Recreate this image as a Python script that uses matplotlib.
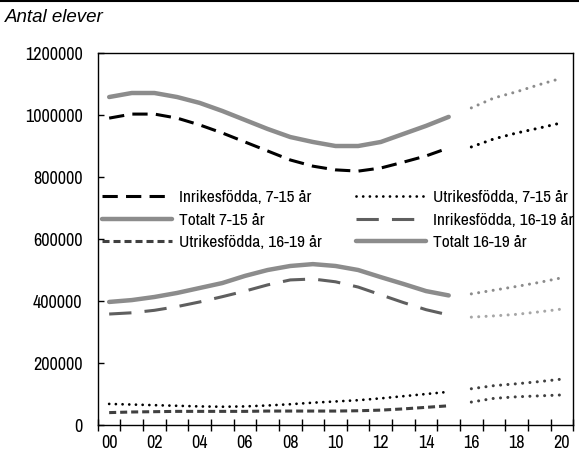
import numpy as np
import matplotlib
matplotlib.use("Agg")
from matplotlib import pyplot as plt
from matplotlib.ticker import FixedLocator

# Years 2000-2020, shown as two-digit labels
years = list(range(21))
hist = years[:16]
proj = years[16:]
tick_labels = ["00", "02", "04", "06", "08", "10", "12", "14", "16", "18", "20"]

# Historical values 2000-2015
inrikes_7_15 = [990000, 1003000, 1003000, 990000, 968000, 942000, 913000, 884000,
                855000, 835000, 823000, 819000, 829000, 848000, 868000, 894000]
utrikes_7_15 = [68000, 66000, 64000, 62000, 60000, 59000, 60000, 63000,
                67000, 72000, 76000, 80000, 86000, 93000, 100000, 107000]
totalt_7_15 = [1058000, 1071000, 1071000, 1058000, 1039000, 1013000, 984000, 955000,
               929000, 913000, 900000, 900000, 913000, 939000, 965000, 994000]
inrikes_16_19 = [358000, 362000, 370000, 382000, 397000, 414000, 432000, 452000,
                 468000, 471000, 462000, 445000, 420000, 395000, 372000, 355000]
utrikes_16_19 = [40000, 42000, 43000, 44000, 44000, 44000, 44000, 45000,
                 45000, 45000, 45000, 46000, 48000, 52000, 57000, 62000]
totalt_16_19 = [397000, 403000, 413000, 426000, 442000, 458000, 481000, 500000,
                513000, 519000, 513000, 500000, 477000, 455000, 432000, 418000]

# Projections 2016-2020
inrikes_7_15_p = [897000, 923000, 942000, 958000, 975000]
utrikes_7_15_p = [117000, 127000, 133000, 140000, 148000]
totalt_7_15_p = [1023000, 1055000, 1075000, 1098000, 1119000]
inrikes_16_19_p = [348000, 352000, 357000, 365000, 374000]
utrikes_16_19_p = [74000, 86000, 91000, 94000, 97000]
totalt_16_19_p = [423000, 435000, 447000, 460000, 475000]

plt.rcParams['font.family'] = ['Archivo Narrow', 'DejaVu Sans']
fs = 12.5

fig = plt.figure(figsize=(5.79, 4.57), dpi=100)
ax = fig.add_axes([0.169, 0.070, 0.821, 0.814])

gray = "#8c8c8c"
dark = "#5f5f5f"
darker = "#404040"

dot = (0, (0.01, 2.4))

l1, = ax.plot(hist, inrikes_7_15, color="black", lw=2.2, ls=(0, (5, 2.7)),
              label="Inrikesfödda, 7-15 år")
l2, = ax.plot(hist, utrikes_7_15, color="black", lw=2.0, ls=dot,
              dash_capstyle="round", label="Utrikesfödda, 7-15 år")
l3, = ax.plot(hist, totalt_7_15, color=gray, lw=3.2, solid_capstyle="round",
              label="Totalt 7-15 år")
l4, = ax.plot(hist, inrikes_16_19, color=dark, lw=2.2, ls=(0, (7.3, 4.3)),
              label="Inrikesfödda, 16-19 år")
l5, = ax.plot(hist, utrikes_16_19, color=darker, lw=2.2, ls=(0, (2.3, 1.3)),
              label="Utrikesfödda, 16-19 år")
l6, = ax.plot(hist, totalt_16_19, color=gray, lw=3.2, solid_capstyle="round",
              label="Totalt 16-19 år")

# projections, dotted
ax.plot(proj, inrikes_7_15_p, color="black", lw=2.2, ls=dot, dash_capstyle="round")
ax.plot(proj, utrikes_7_15_p, color=darker, lw=2.2, ls=dot, dash_capstyle="round")
ax.plot(proj, totalt_7_15_p, color=gray, lw=2.2, ls=dot, dash_capstyle="round")
ax.plot(proj, inrikes_16_19_p, color="#a6a6a6", lw=2.2, ls=dot, dash_capstyle="round")
ax.plot(proj, utrikes_16_19_p, color=darker, lw=2.2, ls=dot, dash_capstyle="round")
ax.plot(proj, totalt_16_19_p, color=gray, lw=2.2, ls=dot, dash_capstyle="round")

ax.set_xlim(-0.5, 20.5)
ax.set_ylim(0, 1200000)
ax.set_yticks(np.arange(0, 1200001, 200000))
ax.set_yticklabels([str(v) for v in range(0, 1200001, 200000)], fontsize=13)
ax.tick_params(axis="y", direction="in", length=4, width=1, pad=11)

# ticks between categories, labels at every other category
ax.xaxis.set_major_locator(FixedLocator(np.arange(-0.5, 21, 1)))
ax.xaxis.set_major_formatter(plt.NullFormatter())
ax.xaxis.set_minor_locator(FixedLocator(np.arange(0, 21, 2)))
ax.set_xticklabels(tick_labels, minor=True, fontsize=13)
ax.tick_params(axis="x", which="major", direction="inout", length=8, width=1)
ax.tick_params(axis="x", which="minor", length=0, pad=7)

for s in ax.spines.values():
    s.set_linewidth(1)

handles = [l1, l3, l5, l2, l4, l6]
ax.legend(handles=handles, labels=[h.get_label() for h in handles], ncol=2,
          loc="upper left", bbox_to_anchor=(-0.005, 0.65), frameon=False,
          fontsize=fs, handlelength=4.0, handletextpad=0.4,
          columnspacing=2.0, labelspacing=0.42, borderaxespad=0)

fig.text(0.009, 0.962, "Antal elever", fontsize=13.5, style="italic",
         family="Liberation Sans", va="center", ha="left")
fig.add_artist(plt.Line2D([0, 1], [0.998, 0.998], color="black", lw=1.5,
                          transform=fig.transFigure))

plt.savefig("out.png", dpi=100)
